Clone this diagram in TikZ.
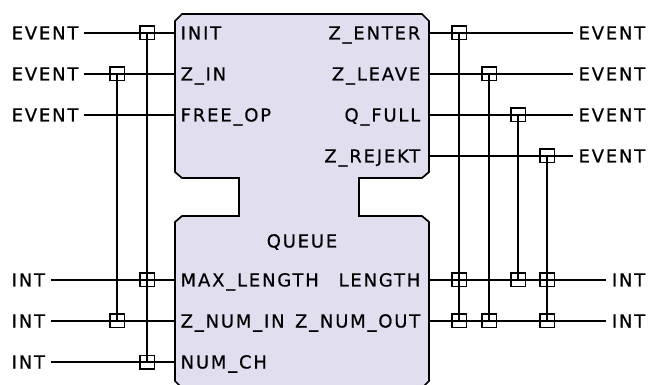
\documentclass[tikz,border=0pt]{standalone}
\usepackage{fontspec}
\newfontfamily\pfont[LetterSpace=10,FakeBold=0.5]{DejaVu Sans}
\definecolor{blockfill}{RGB}{224,222,239}
\begin{document}
\begin{tikzpicture}[x=1pt,y=-1pt,
  wire/.style={line width=1.7pt},
  jn/.style={draw, line width=1.5pt, minimum width=14.5pt, minimum height=13.5pt, inner sep=0pt},
  lab/.style={font=\pfont\fontsize{18}{18}\selectfont, text height=13pt, text depth=0pt, inner ysep=0pt, inner xsep=3.5pt},
  outer/.style={lab, inner xsep=5.5pt},
  blk/.style={draw, line width=1.7pt, fill=blockfill, line join=miter}]
\useasboundingbox (0,0) rectangle (649,385);
\clip (0,0) rectangle (649,385);
% block
\draw[blk] (175,21) -- (182,14) -- (422,14) -- (429,21) -- (429,172) -- (422,178)
  -- (359,178) -- (359,216) -- (422,216) -- (429,222) -- (429,381) -- (422,388)
  -- (182,388) -- (175,381) -- (175,222) -- (182,216) -- (239,216) -- (239,178)
  -- (182,178) -- (175,172) -- cycle;
\node[lab] (queue) at (302,241) {QUEUE};
% port points on block edge
\foreach \n/\y in {INIT/33, ZIN/74, FREEOP/115, MAXLEN/280, ZNUMIN/321, NUMCH/362}
  \coordinate (p\n) at (175,\y);
\foreach \n/\y in {ZENTER/33, ZLEAVE/74, QFULL/115, ZREJEKT/156, LENGTH/280, ZNUMOUT/321}
  \coordinate (p\n) at (429,\y);
% port labels
\node[lab,anchor=west] (lINIT) at (177,33) {INIT};
\node[lab,anchor=west] (lZIN) at (177,74) {Z\_IN};
\node[lab,anchor=west] (lFREEOP) at (177,115) {FREE\_OP};
\node[lab,anchor=west] (lMAXLEN) at (177,280) {MAX\_LENGTH};
\node[lab,anchor=west] (lZNUMIN) at (177,321) {Z\_NUM\_IN};
\node[lab,anchor=west] (lNUMCH) at (177,362) {NUM\_CH};
\node[lab,anchor=east] (lZENTER) at (424,33) {Z\_ENTER};
\node[lab,anchor=east] (lZLEAVE) at (424,74) {Z\_LEAVE};
\node[lab,anchor=east] (lQFULL) at (424,115) {Q\_FULL};
\node[lab,anchor=east] (lZREJEKT) at (424,156) {Z\_REJEKT};
\node[lab,anchor=east] (lLENGTH) at (424,280) {LENGTH};
\node[lab,anchor=east] (lZNUMOUT) at (424,321) {Z\_NUM\_OUT};
% outer type labels
\node[outer,anchor=west] (tINIT) at (6,33) {EVENT};
\node[outer,anchor=west] (tZIN) at (6,74) {EVENT};
\node[outer,anchor=west] (tFREEOP) at (6,115) {EVENT};
\node[outer,anchor=west] (tMAXLEN) at (6,280) {INT};
\node[outer,anchor=west] (tZNUMIN) at (6,321) {INT};
\node[outer,anchor=west] (tNUMCH) at (6,362) {INT};
\node[outer,anchor=east] (tZENTER) at (651,33) {EVENT};
\node[outer,anchor=east] (tZLEAVE) at (651,74) {EVENT};
\node[outer,anchor=east] (tQFULL) at (651,115) {EVENT};
\node[outer,anchor=east] (tZREJEKT) at (651,156) {EVENT};
\node[outer,anchor=east] (tLENGTH) at (651,280) {INT};
\node[outer,anchor=east] (tZNUMOUT) at (651,321) {INT};
% horizontal wires
\foreach \n in {INIT, ZIN, FREEOP, MAXLEN, ZNUMIN, NUMCH}
  \draw[wire] (t\n.east) -- (p\n);
\foreach \n in {ZENTER, ZLEAVE, QFULL, ZREJEKT, LENGTH, ZNUMOUT}
  \draw[wire] (p\n) -- (t\n.west);
% junctions left
\node[jn] (jA1) at (147,33) {};
\node[jn] (jA2) at (147,280) {};
\node[jn] (jA3) at (147,362) {};
\node[jn] (jB1) at (117,74) {};
\node[jn] (jB2) at (117,321) {};
% junctions right
\node[jn] (jC1) at (459,33) {};
\node[jn] (jC2) at (459,280) {};
\node[jn] (jC3) at (459,321) {};
\node[jn] (jD1) at (489,74) {};
\node[jn] (jD2) at (489,321) {};
\node[jn] (jE1) at (518,115) {};
\node[jn] (jE2) at (518,280) {};
\node[jn] (jF1) at (547,156) {};
\node[jn] (jF2) at (547,280) {};
\node[jn] (jF3) at (547,321) {};
% vertical wires
\draw[wire] (jA1.center) -- (jA3.center);
\draw[wire] (jB1.center) -- (jB2.center);
\draw[wire] (jC1.center) -- (jC3.center);
\draw[wire] (jD1.center) -- (jD2.center);
\draw[wire] (jE1.center) -- (jE2.center);
\draw[wire] (jF1.center) -- (jF3.center);
\end{tikzpicture}
\end{document}
